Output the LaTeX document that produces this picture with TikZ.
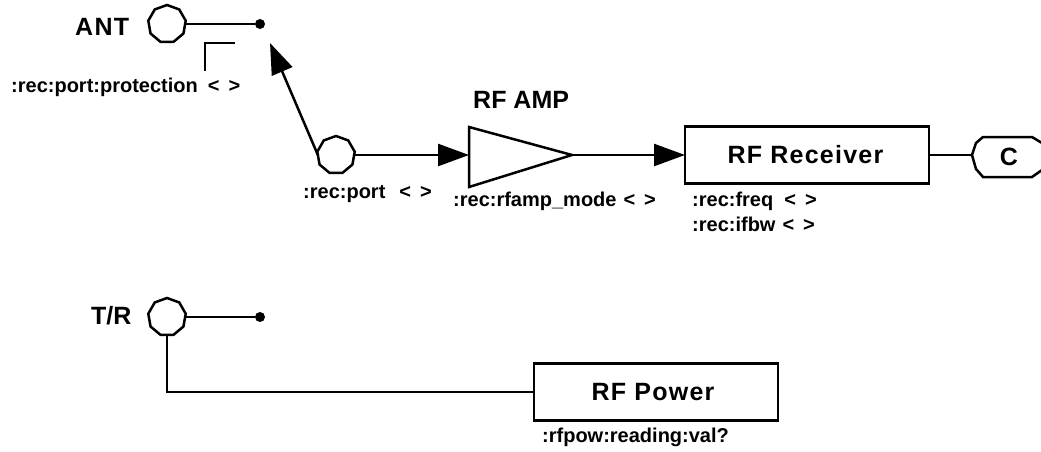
\documentclass[tikz,border=0pt]{standalone}
\usepackage{fontspec}
\setmainfont{Liberation Sans}
\usetikzlibrary{arrows.meta,shapes.geometric}
\newcommand{\angpair}{<\hspace{9pt}>}
\tikzset{
  x=1pt,y=-1pt,
  wire/.style={line width=2.5pt,black},
  arr/.style={wire,-{Triangle[length=31pt,width=22pt]}},
  octa/.style={regular polygon,regular polygon sides=9,draw,line width=2.5pt,minimum size=38pt,inner sep=0pt,outer sep=0pt,fill=white},
  blockbox/.style={draw,line width=2.7pt,minimum width=244pt,minimum height=57pt,inner sep=0pt,outer sep=0pt,fill=white},
  big/.style={font=\fontsize{25}{28}\selectfont\bfseries,inner sep=0pt},
  spaced/.style={big,font=\fontsize{25}{28}\selectfont\bfseries\addfontfeature{LetterSpace=5}},
  small/.style={font=\fontsize{20}{22}\selectfont\bfseries,inner sep=0pt,anchor=west},
  dotn/.style={circle,fill=black,minimum size=10pt,inner sep=0pt}
}
\begin{document}
\begin{tikzpicture}
\useasboundingbox (0,0) rectangle (1041,452);
\node[octa] (ant) at (167,24) {};
\node[octa] (port) at (336,155) {};
\node[octa] (tr) at (167,317) {};
\node[dotn] (d1) at (260,24) {};
\node[dotn] (d2) at (260,317) {};
\node[blockbox] (recv) at (807,155) {};
\node[spaced] at (805.5,155) {RF Receiver};
\node[blockbox] (pow) at (656,392) {};
\node[spaced] at (653,392) {RF Power};
\coordinate (tl) at (469,127);
\coordinate (bl) at (469,187);
\coordinate (apex) at (572,155);
\coordinate (tin) at (469,155);
\draw[line width=2.5pt,line join=miter] (tl) -- (apex) -- (bl) -- cycle;
\coordinate (c1) at (972,155);
\draw[line width=2.5pt,fill=white] (1042,170) -- (1032,177) -- (983,177) -- (976,169) -- (c1) -- (976,143) -- (983,137) -- (1032,137) -- (1042,143);
\node[big] (clabel) at (1009,157) {C};
\coordinate (tip) at (270,43);
\coordinate (k1) at (205,71);
\coordinate (k2) at (205,43);
\coordinate (k3) at (235,43);
\coordinate (k4) at (167,392);
\draw[wire] (ant.east |- d1) -- (d1);
\draw[wire] (tr.east |- d2) -- (d2);
\draw[wire,line join=miter] (k1) -- (k2) -- (k3);
\draw[arr] (port.west) -- (tip);
\draw[arr] (port.east |- tin) -- (tin);
\draw[arr] (apex) -- (recv.west);
\draw[wire] (recv.east) -- (c1);
\draw[wire,line join=miter] (tr.south -| k4) -- (k4) -- (pow.west);
\node[spaced,anchor=west] (antl) at (75,27) {ANT};
\node[big,anchor=west] (trl) at (91,316) {T/R};
\node[big,anchor=west] (ampl) at (473,100) {RF AMP};
\node[small] (l1) at (11,87) {:rec:port:protection\hspace{10pt}\angpair};
\node[small] (l2) at (303,194) {:rec:port\hspace{14pt}\angpair};
\node[small] (l3) at (453,201) {:rec:rfamp\_mode\hspace{7pt}\angpair};
\node[small] (l4) at (692,201) {:rec:freq\hspace{11pt}\angpair};
\node[small] (l5) at (692,224) {:rec:ifbw\hspace{7pt}\angpair};
\node[small] (l6) at (542,437) {:rfpow:reading:val?};
\end{tikzpicture}
\end{document}
